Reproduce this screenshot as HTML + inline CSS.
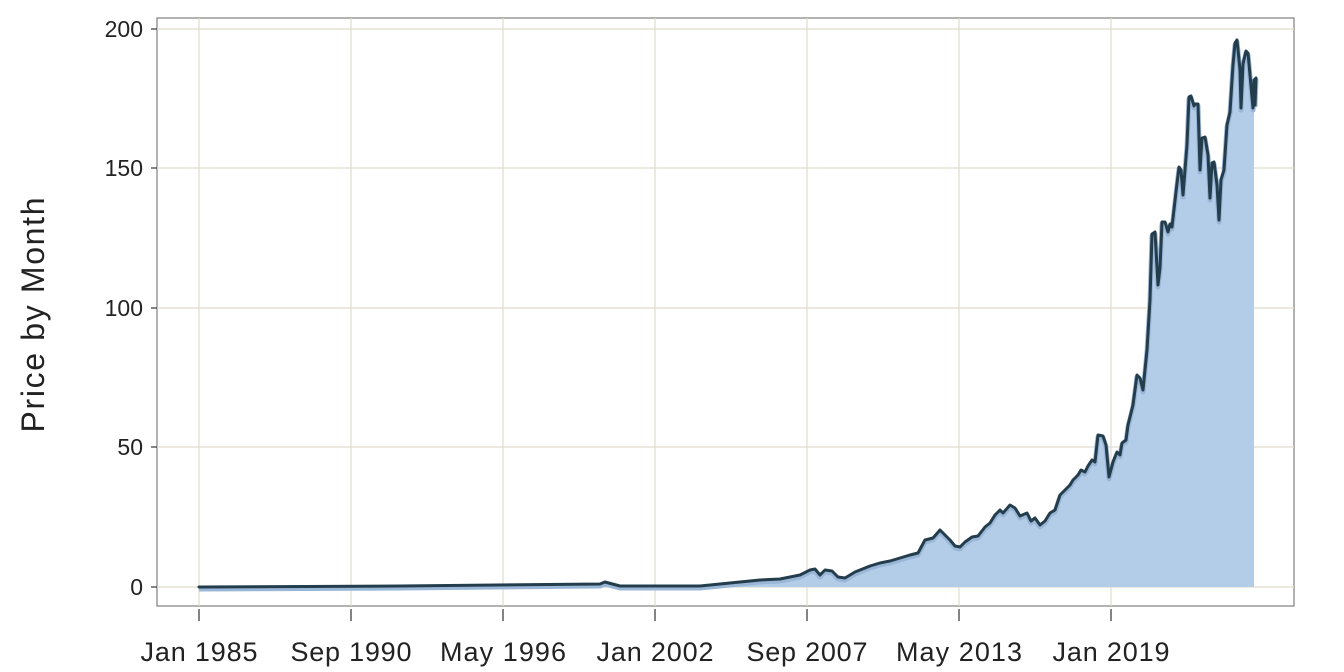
<!DOCTYPE html><html><head><style>body{margin:0;background:#fff}svg{display:block;font-family:"Liberation Sans",sans-serif}</style></head><body>
<svg width="1344" height="672" viewBox="0 0 1344 672">
<rect x="157" y="18" width="1137" height="588" fill="#fff" stroke="#666" stroke-width="1"/>
<g stroke="#e0dccf" stroke-width="1.2">
<line x1="157" x2="1294" y1="29" y2="29"/><line x1="157" x2="1294" y1="168" y2="168"/><line x1="157" x2="1294" y1="308" y2="308"/><line x1="157" x2="1294" y1="447" y2="447"/><line x1="157" x2="1294" y1="587" y2="587"/>
<line x1="199" x2="199" y1="18" y2="606"/><line x1="351" x2="351" y1="18" y2="606"/><line x1="503" x2="503" y1="18" y2="606"/><line x1="655" x2="655" y1="18" y2="606"/><line x1="807" x2="807" y1="18" y2="606"/><line x1="959" x2="959" y1="18" y2="606"/><line x1="1111" x2="1111" y1="18" y2="606"/>
</g>
<path id="p" d="M199,587 L400,586 L600,584 L605,582 L620,586 L700,586 L730,583 L760,580 L780,579 L800,575 L810,570 L815,569 L820,575 L825,570 L832,571 L838,577 L845,578 L855,572 L870,566 L880,563 L890,561 L900,558 L910,555 L918,553 L925,540 L933,538 L940,530 L945,535 L950,540 L955,546 L960,547 L965,542 L972,537 L978,536 L985,527 L990,523 L995,515 L1000,510 L1003,513 L1010,505 L1015,508 L1020,516 L1027,513 L1031,521 L1035,518 L1040,525 L1045,521 L1050,513 L1055,510 L1060,495 L1065,490 L1070,485 L1073,480 L1078,475 L1081,470 L1085,472 L1088,466 L1092,460 L1095,462 L1098,435 L1103,436 L1106,445 L1109,477 L1113,462 L1117,452 L1120,455 L1122,443 L1126,440 L1128,425 L1133,405 L1137,375 L1140,378 L1143,390 L1147,350 L1150,300 L1152,234 L1155,232 L1158,285 L1160,268 L1162,222 L1165,222 L1168,232 L1170,224 L1172,227 L1176,192 L1179,167 L1181,170 L1183,195 L1187,145 L1189,97 L1191,96 L1194,106 L1195,104 L1198,104 L1200,170 L1202,138 L1205,137 L1208,155 L1210,198 L1212,163 L1214,162 L1217,185 L1219,220 L1221,180 L1224,170 L1227,125 L1230,112 L1233,65 L1235,43 L1237,40 L1240,70 L1241,108 L1243,64 L1246,51 L1248,53 L1250,75 L1253,108 L1254,80 L1256,78 L1255,105" fill="none"/>
<path d="M199,587 L400,586 L600,584 L605,582 L620,586 L700,586 L730,583 L760,580 L780,579 L800,575 L810,570 L815,569 L820,575 L825,570 L832,571 L838,577 L845,578 L855,572 L870,566 L880,563 L890,561 L900,558 L910,555 L918,553 L925,540 L933,538 L940,530 L945,535 L950,540 L955,546 L960,547 L965,542 L972,537 L978,536 L985,527 L990,523 L995,515 L1000,510 L1003,513 L1010,505 L1015,508 L1020,516 L1027,513 L1031,521 L1035,518 L1040,525 L1045,521 L1050,513 L1055,510 L1060,495 L1065,490 L1070,485 L1073,480 L1078,475 L1081,470 L1085,472 L1088,466 L1092,460 L1095,462 L1098,435 L1103,436 L1106,445 L1109,477 L1113,462 L1117,452 L1120,455 L1122,443 L1126,440 L1128,425 L1133,405 L1137,375 L1140,378 L1143,390 L1147,350 L1150,300 L1152,234 L1155,232 L1158,285 L1160,268 L1162,222 L1165,222 L1168,232 L1170,224 L1172,227 L1176,192 L1179,167 L1181,170 L1183,195 L1187,145 L1189,97 L1191,96 L1194,106 L1195,104 L1198,104 L1200,170 L1202,138 L1205,137 L1208,155 L1210,198 L1212,163 L1214,162 L1217,185 L1219,220 L1221,180 L1224,170 L1227,125 L1230,112 L1233,65 L1235,43 L1237,40 L1240,70 L1241,108 L1243,64 L1246,51 L1248,53 L1250,75 L1253,108 L1254,80 L1254,587 Z" fill="#b3cde9"/>
<use href="#p" stroke="#9ab6d6" stroke-width="5" transform="translate(0,2)" stroke-linejoin="round"/>
<use href="#p" stroke="#243d4c" stroke-width="3" stroke-linejoin="round" stroke-linecap="round"/>
<g stroke="#333" stroke-width="1.2">
<line x1="151" x2="157" y1="29" y2="29"/><line x1="151" x2="157" y1="168" y2="168"/><line x1="151" x2="157" y1="308" y2="308"/><line x1="151" x2="157" y1="447" y2="447"/><line x1="151" x2="157" y1="587" y2="587"/>
<line x1="199" x2="199" y1="609" y2="621"/><line x1="351" x2="351" y1="609" y2="621"/><line x1="503" x2="503" y1="609" y2="621"/><line x1="655" x2="655" y1="609" y2="621"/><line x1="807" x2="807" y1="609" y2="621"/><line x1="959" x2="959" y1="609" y2="621"/><line x1="1111" x2="1111" y1="609" y2="621"/>
</g>
<g font-size="23" fill="#222" text-anchor="end">
<text x="143" y="37">200</text><text x="143" y="176">150</text><text x="143" y="316">100</text><text x="143" y="455">50</text><text x="143" y="595">0</text>
</g>
<g font-size="27" fill="#222" text-anchor="middle">
<text x="199" y="661" textLength="117">Jan 1985</text><text x="351" y="661" textLength="121">Sep 1990</text><text x="503" y="661" textLength="126">May 1996</text><text x="655" y="661" textLength="117">Jan 2002</text><text x="807" y="661" textLength="121">Sep 2007</text><text x="959" y="661" textLength="126">May 2013</text><text x="1111" y="661" textLength="117">Jan 2019</text>
</g>
<text transform="translate(44,315) rotate(-90)" font-size="32" fill="#222" text-anchor="middle" textLength="235">Price by Month</text>
</svg></body></html>
